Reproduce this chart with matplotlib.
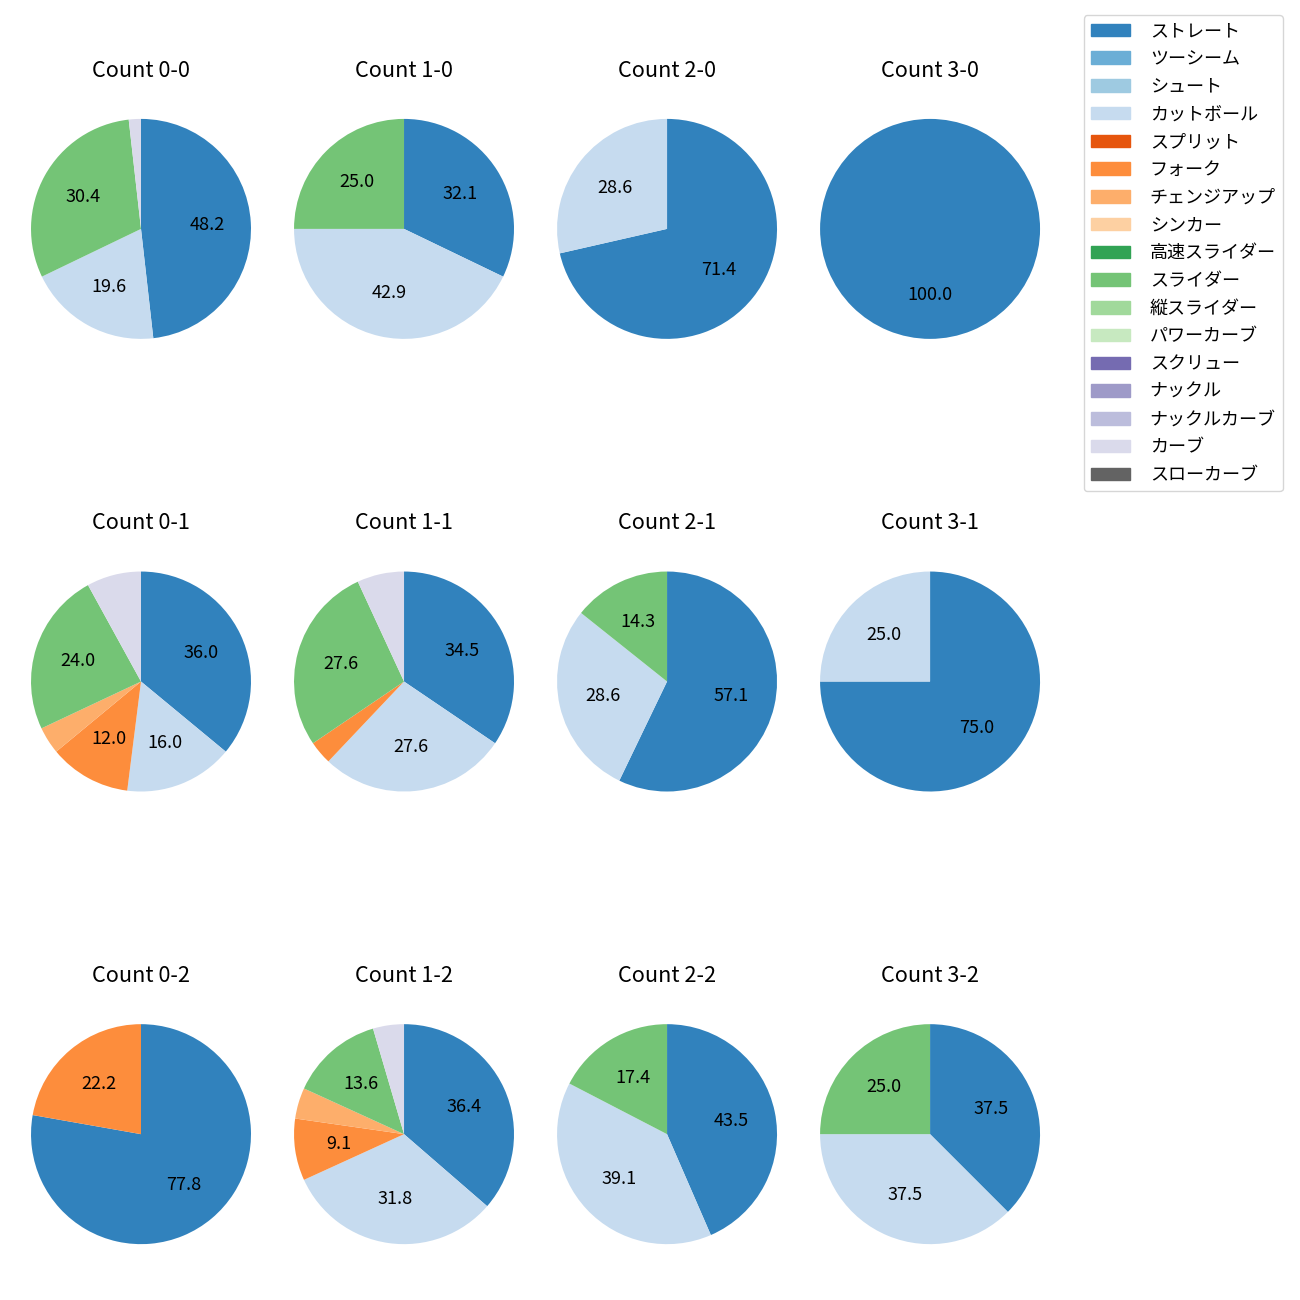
import numpy as np
import matplotlib
matplotlib.use("Agg")
import matplotlib.pyplot as plt
from matplotlib.patches import Patch

plt.rcParams['font.family'] = ['Noto Sans CJK JP', 'DejaVu Sans']
plt.rcParams['font.size'] = 13

## pitch types (legend order) and colours
pitch_types = ["ストレート", "ツーシーム", "シュート", "カットボール", "スプリット", "フォーク",
               "チェンジアップ", "シンカー", "高速スライダー", "スライダー", "縦スライダー",
               "パワーカーブ", "スクリュー", "ナックル", "ナックルカーブ", "カーブ", "スローカーブ"]
cmap = plt.get_cmap("tab20c")
colors = [cmap(i) for i in range(16)] + [cmap(16)]

counts_labels = ["0-0", "1-0", "2-0", "3-0",
                 "0-1", "1-1", "2-1", "3-1",
                 "0-2", "1-2", "2-2", "3-2"]

# pitch counts per ball-strike count
c_00 = {"ストレート": 27, "カットボール": 11, "スライダー": 17, "カーブ": 1}
c_10 = {"ストレート": 9, "カットボール": 12, "スライダー": 7}
c_20 = {"ストレート": 5, "カットボール": 2}
c_30 = {"ストレート": 1}
c_01 = {"ストレート": 9, "カットボール": 4, "フォーク": 3, "チェンジアップ": 1, "スライダー": 6, "カーブ": 2}
c_11 = {"ストレート": 10, "カットボール": 8, "フォーク": 1, "スライダー": 8, "カーブ": 2}
c_21 = {"ストレート": 4, "カットボール": 2, "スライダー": 1}
c_31 = {"ストレート": 3, "カットボール": 1}
c_02 = {"ストレート": 7, "フォーク": 2}
c_12 = {"ストレート": 8, "カットボール": 7, "フォーク": 2, "チェンジアップ": 1, "スライダー": 3, "カーブ": 1}
c_22 = {"ストレート": 10, "カットボール": 9, "スライダー": 4}
c_32 = {"ストレート": 3, "カットボール": 3, "スライダー": 2}

data = [c_00, c_10, c_20, c_30, c_01, c_11, c_21, c_31, c_02, c_12, c_22, c_32]

fig, axes = plt.subplots(3, 4, figsize=(13, 13))
fig.subplots_adjust(left=0.0154, right=0.8085, top=0.9346, bottom=0.0169,
                    wspace=0.087, hspace=0.573)

for ax, lab, d in zip(axes.flat, counts_labels, data):
    names = [p for p in pitch_types if p in d]
    vals = [d[p] for p in names]
    cols = [colors[pitch_types.index(p)] for p in names]
    ax.pie(vals, colors=cols, startangle=90, counterclock=False,
           autopct=lambda p: f"{p:.1f}" if p >= 9 else "")
    ax.set_aspect("equal", adjustable="datalim")
    ax.set_xlim(-1.1, 1.1)
    ax.set_ylim(-1.1, 1.1)
    ax.set_title("Count " + lab)

handles = [Patch(color=c) for c in colors]
fig.legend(handles, pitch_types, loc="upper right",
           bbox_to_anchor=(0.9869, 0.9885), borderaxespad=0, handlelength=2.15,
           labelspacing=0.54, handletextpad=1.1)

plt.savefig("out.png", dpi=100)
